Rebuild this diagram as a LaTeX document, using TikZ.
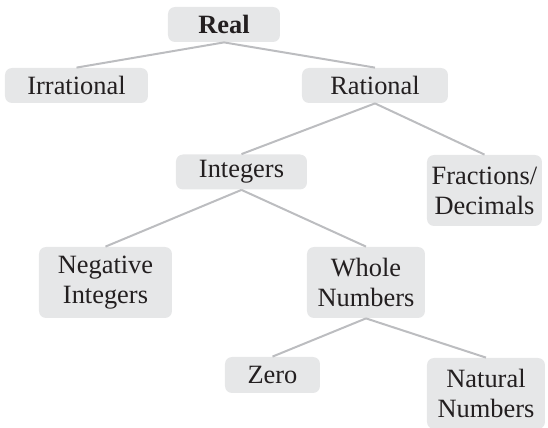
\documentclass[tikz,border=0pt]{standalone}
\usepackage{fontspec}
\setmainfont{Liberation Serif}
\definecolor{boxgray}{HTML}{E6E7E8}
\definecolor{linegray}{HTML}{BCBDC0}
\definecolor{inkdark}{HTML}{231F20}
\tikzset{
  numbox/.style={fill=boxgray, rounded corners=3.5pt, align=center, inner sep=1pt,
                 text=inkdark, font=\fontsize{13.2}{15}\selectfont, minimum height=17.5pt},
  twoline/.style={minimum height=35.5pt},
  branch/.style={draw=linegray, line width=1pt}
}
\begin{document}
\begin{tikzpicture}[x=0.5pt, y=-0.5pt]
\useasboundingbox (0, 0) rectangle (548, 428);
\path (224, 24.5) node[numbox, minimum width=56pt] (real) {\textbf{Real}}
      (76.5, 85.5) node[numbox, minimum width=71.5pt] (irr) {Irrational}
      (375, 85.5) node[numbox, minimum width=73pt] (rat) {Rational}
      (241.5, 172) node[numbox, minimum width=65.5pt] (int) {Integers}
      (484.5, 190.5) node[numbox, twoline, minimum width=57.5pt] (frac) {Fractions/\\Decimals}
      (105.5, 282.5) node[numbox, twoline, minimum width=66.5pt] (neg) {Negative\\Integers}
      (366, 282.5) node[numbox, twoline, minimum width=59pt] (whole) {Whole\\Numbers}
      (272.5, 375) node[numbox, minimum width=47.5pt, minimum height=18pt] (zero) {Zero}
      (486, 393.5) node[numbox, twoline, minimum width=59pt] (nat) {Natural\\Numbers};
\draw[branch] (real.south) -- (irr.north)
      (real.south) -- (rat.north)
      (rat.south) -- (int.north)
      (rat.south) -- (frac.north)
      (int.south) -- (neg.north)
      (int.south) -- (whole.north)
      (whole.south) -- (zero.north)
      (whole.south) -- (nat.north);
\end{tikzpicture}
\end{document}
